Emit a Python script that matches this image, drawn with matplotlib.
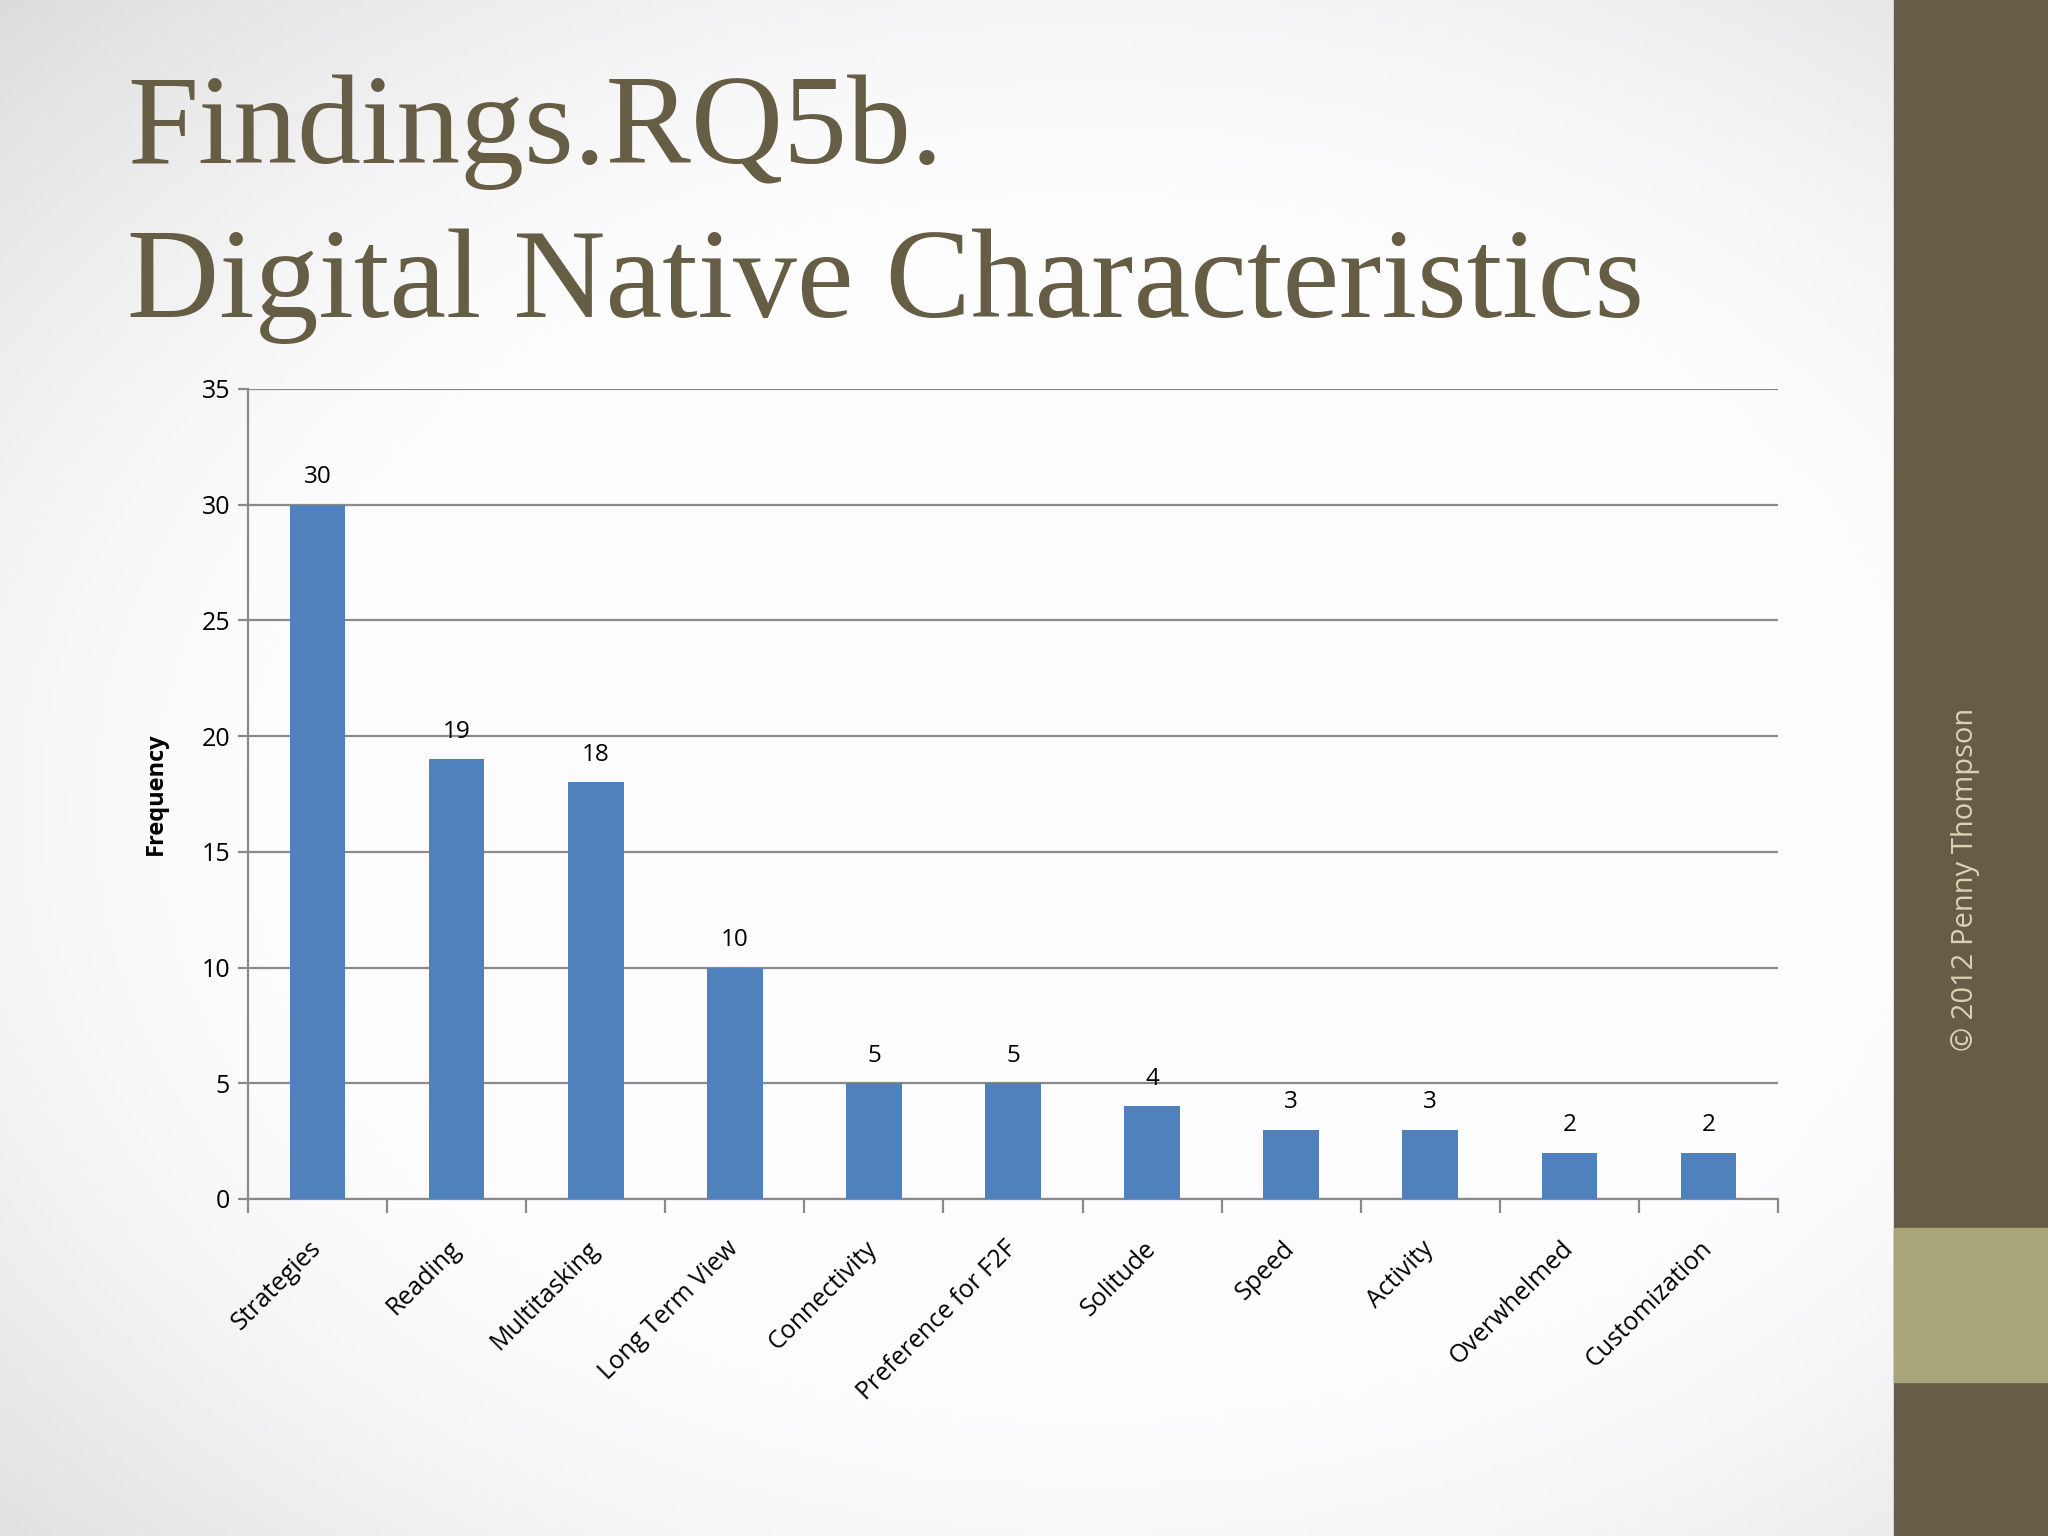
import matplotlib
matplotlib.use("Agg")
import matplotlib.pyplot as plt
import numpy as np
from matplotlib.patches import Rectangle

categories = ["Strategies", "Reading", "Multitasking", "Long Term View", "Connectivity",
              "Preference for F2F", "Solitude", "Speed", "Activity", "Overwhelmed", "Customization"]
values = [30, 19, 18, 10, 5, 5, 4, 3, 3, 2, 2]
yticks = [0, 5, 10, 15, 20, 25, 30, 35]
title_lines = ["Findings.RQ5b.", "Digital Native Characteristics"]
ylabel = "Frequency"
credit = "© 2012 Penny Thompson"

W, H = 2048, 1536
fig = plt.figure(figsize=(W / 100, H / 100), dpi=100)

# slide background (radial gradient)
bg = fig.add_axes([0, 0, 1894 / W, 1], zorder=-2)
gx, gy = np.meshgrid(np.linspace(-1, 1, 400), np.linspace(-1, 1, 300))
r = np.sqrt(((gx - 0.15) * 0.9) ** 2 + ((gy + 0.05) * 1.0) ** 2)
shade = np.clip((r - 0.75) / 0.75, 0, 1) ** 1.5
img = 1.0 - 0.14 * shade
rgb = np.dstack([img * 0.995, img * 0.995, img])
bg.imshow(rgb, extent=[0, 1, 0, 1], aspect="auto", origin="lower")
bg.set_axis_off()

# side bar
fig.patches.append(Rectangle((1894 / W, 0), 1 - 1894 / W, 1, transform=fig.transFigure,
                             color="#675D46", zorder=-1))
fig.patches.append(Rectangle((1894 / W, 1 - 1382 / H), 1 - 1894 / W, (1382 - 1228) / H,
                             transform=fig.transFigure, color="#A9A57B", zorder=-1))
fig.text(1965 / W, 1 - 879 / H, credit, rotation=90, ha="center", va="center",
         color="#D9D3B6", fontsize=21, family="Open Sans")

# title
title_color = "#665D45"
fig.text(127 / W, 1 - 163 / H, title_lines[0], ha="left", va="baseline",
         color=title_color, fontsize=92, family="Liberation Serif")
fig.text(127 / W, 1 - 317 / H, title_lines[1], ha="left", va="baseline",
         color=title_color, fontsize=92, family="Liberation Serif")

# chart
ax = fig.add_axes([248 / W, 1 - 1199 / H, (1778 - 248) / W, (1199 - 389) / H])
ax.patch.set_alpha(0)
x = np.arange(len(categories))
ax.bar(x, values, width=0.4, color="#4F81BD", zorder=3)
for xi, v in zip(x, values):
    ax.annotate(str(v), (xi, v), xytext=(0, 11), textcoords="offset points",
                ha="center", va="bottom", fontsize=17.5, family="Open Sans", color="black")

ax.set_xlim(-0.5, len(categories) - 0.5)
ax.set_ylim(0, 35)
ax.set_yticks(yticks)
ax.set_yticklabels([str(t) for t in yticks], fontsize=18, family="Open Sans")
ax.yaxis.grid(True, color="#8A8A8A", linewidth=1.6, zorder=0)
ax.set_axisbelow(True)
for s in ["top", "right"]:
    ax.spines[s].set_visible(False)
for s in ["left", "bottom"]:
    ax.spines[s].set_color("#8A8A8A")
    ax.spines[s].set_linewidth(1.6)
ax.tick_params(axis="y", length=7, width=1.6, color="#8A8A8A", pad=6)

ax.set_xticks(np.arange(-0.5, len(categories), 1.0))
ax.set_xticklabels([])
ax.set_xticks(x, minor=True)
ax.set_xticklabels(categories, minor=True, rotation=45, ha="right", va="center",
                   rotation_mode="anchor", fontsize=18, family="Open Sans")
ax.tick_params(axis="x", which="major", length=10, width=1.6, color="#8A8A8A")
ax.tick_params(axis="x", which="minor", length=0, pad=33)

ax.set_ylabel(ylabel, fontsize=17, fontweight="bold", family="Open Sans", labelpad=24)

fig.savefig("out.png", dpi=100)
